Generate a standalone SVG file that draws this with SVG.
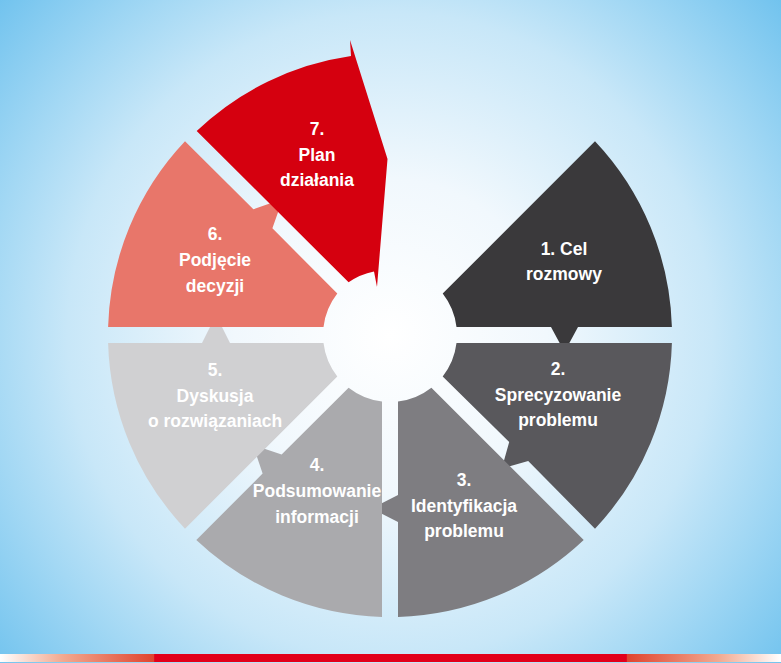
<svg xmlns="http://www.w3.org/2000/svg" width="781" height="663" viewBox="0 0 781 663">
  <defs>
    <radialGradient id="bg" gradientUnits="userSpaceOnUse" cx="390" cy="335" r="520">
      <stop offset="0" stop-color="#ffffff"/>
      <stop offset="0.3" stop-color="#f1f8fd"/>
      <stop offset="0.62" stop-color="#c8e7f8"/>
      <stop offset="0.78" stop-color="#a3d8f4"/>
      <stop offset="1" stop-color="#6fc2ee"/>
    </radialGradient>
    <linearGradient id="bar" gradientUnits="userSpaceOnUse" x1="0" y1="0" x2="781" y2="0">
      <stop offset="0" stop-color="#ffffff"/>
      <stop offset="0.08" stop-color="#f2a990"/>
      <stop offset="0.197" stop-color="#e0442f"/>
      <stop offset="0.198" stop-color="#e2001a"/>
      <stop offset="0.802" stop-color="#e2001a"/>
      <stop offset="0.803" stop-color="#e0442f"/>
      <stop offset="0.92" stop-color="#f2a990"/>
      <stop offset="1" stop-color="#ffffff"/>
    </linearGradient>
  </defs>
  <style>
    .lbl { font-family: "Liberation Sans", Arial, sans-serif; font-weight: bold; font-size: 17.5px; fill: #ffffff; text-anchor: middle; }
  </style>

  <!-- background and footer stripe -->
  <rect x="0" y="0" width="781" height="663" fill="url(#bg)"/>
  <rect x="0" y="654" width="781" height="8" fill="url(#bar)"/>

  <!-- cycle connectors: arrow tips are part of each segment outline -->
  <g id="connectors"/>

  <g id="step1">
    <path fill="#3a393b" d="M442.7,293.6 L595,141.3 A282,282 0 0 1 671.9,327 L578,327 L564.5,352 L551,327 L456.5,327 A67,67 0 0 0 442.7,293.6 Z"/>
    <text class="lbl" x="564" y="255">1. Cel</text>
    <text class="lbl" x="564" y="280">rozmowy</text>
  </g>

  <g id="step2">
    <path fill="#59585c" d="M456.5,343 L671.9,343 A282,282 0 0 1 595,528.7 L528.2,461 L501.7,468.7 L509.2,442 L442.7,376.4 A67,67 0 0 0 456.5,343 Z"/>
    <text class="lbl" x="558" y="375">2.</text>
    <text class="lbl" x="558" y="401">Sprecyzowanie</text>
    <text class="lbl" x="558" y="426">problemu</text>
  </g>

  <g id="step3">
    <path fill="#7e7d81" d="M431.4,387.7 L583.7,540 A282,282 0 0 1 398,616.9 L398,522 L371.5,508.5 L398,495 L398,401.5 A67,67 0 0 0 431.4,387.7 Z"/>
    <text class="lbl" x="464" y="486">3.</text>
    <text class="lbl" x="464" y="512">Identyfikacja</text>
    <text class="lbl" x="464" y="537">problemu</text>
  </g>

  <g id="step4">
    <path fill="#aaaaad" d="M382,401.5 L382,616.9 A282,282 0 0 1 196.3,540 L262.6,473.6 L253,445 L281.6,454.6 L348.6,387.7 A67,67 0 0 0 382,401.5 Z"/>
    <text class="lbl" x="317" y="471">4.</text>
    <text class="lbl" x="317" y="497">Podsumowanie</text>
    <text class="lbl" x="317" y="523">informacji</text>
  </g>

  <g id="step5">
    <path fill="#d0d0d2" d="M337.3,376.4 L185,528.7 A282,282 0 0 1 108.1,343 L202,343 L216,315 L230,343 L323.5,343 A67,67 0 0 0 337.3,376.4 Z"/>
    <text class="lbl" x="215" y="376">5.</text>
    <text class="lbl" x="215" y="402">Dyskusja</text>
    <text class="lbl" x="215" y="427">o rozwiązaniach</text>
  </g>

  <g id="step6">
    <path fill="#e8766a" d="M323.5,327 L108.1,327 A282,282 0 0 1 185,141.3 L253.4,209.3 L282.7,199 L272.4,228.3 L337.3,293.6 A67,67 0 0 0 323.5,327 Z"/>
    <text class="lbl" x="215" y="240">6.</text>
    <text class="lbl" x="215" y="266">Podjęcie</text>
    <text class="lbl" x="215" y="292">decyzji</text>
  </g>

  <g id="step7">
    <path fill="#d5000f" d="M348.6,282.3 L196.7,131 A282,282 0 0 1 351,56 L350,40 L387.5,159 L377,287 L374,271.5 A67,67 0 0 0 348.6,282.3 Z"/>
    <text class="lbl" x="317" y="135">7.</text>
    <text class="lbl" x="317" y="161">Plan</text>
    <text class="lbl" x="317" y="186">działania</text>
  </g>
</svg>
